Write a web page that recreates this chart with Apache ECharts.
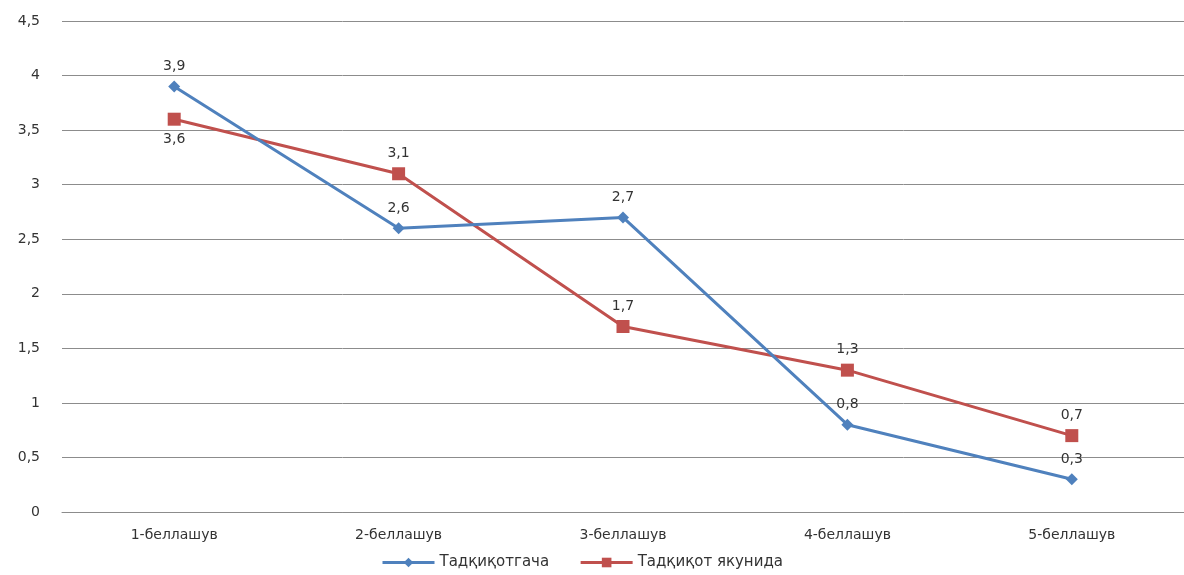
<!DOCTYPE html>
<html>
<head>
<meta charset="utf-8">
<script src="https://cdn.jsdelivr.net/npm/echarts@6/dist/echarts.min.js"></script>
<style>
  html, body { margin: 0; padding: 0; background: #fff; }
  #main { width: 1184px; height: 575px; }
</style>
</head>
<body>
<div id="main"></div>
<script>
var categories = ['1-беллашув', '2-беллашув', '3-беллашув', '4-беллашув', '5-беллашув'];
var seriesNames = ['Тадқиқотгача', 'Тадқиқот якунида'];
var before = [3.9, 2.6, 2.7, 0.8, 0.3];
var after = [3.6, 3.1, 1.7, 1.3, 0.7];
// red labels: only the first one sits below its point
var afterLabelPos = ['bottom', 'top', 'top', 'top', 'top'];

var myChart = echarts.init(document.getElementById('main'));
var font = 'DejaVu Sans';

function comma(v) {
  return String(v).replace('.', ',');
}

var option = {
  backgroundColor: '#fff',
  textStyle: { fontFamily: font },
  grid: { left: 62, right: -9, top: 21, bottom: 63 },
  legend: {
    bottom: 0,
    left: 376,
    itemWidth: 52,
    itemHeight: 12,
    itemGap: 30,
    lineStyle: { width: 3 },
    textStyle: { fontFamily: font, fontSize: 15, color: '#333' },
    data: seriesNames
  },
  xAxis: {
    type: 'category',
    data: categories,
    boundaryGap: true,
    axisLine: { lineStyle: { color: '#8c8c8c' } },
    axisTick: { show: false },
    axisLabel: { fontFamily: font, fontSize: 14, color: '#333', margin: 16 }
  },
  yAxis: {
    type: 'value',
    min: 0,
    max: 4.5,
    interval: 0.5,
    axisLine: { show: false },
    axisTick: { show: false },
    axisLabel: {
      fontFamily: font, fontSize: 14, color: '#333', margin: 22,
      formatter: function (v) { return comma(v); }
    },
    splitLine: { lineStyle: { color: '#8c8c8c', width: 1 } }
  },
  series: [{
    name: seriesNames[0],
    type: 'line',
    data: before,
    symbol: 'diamond',
    symbolSize: 12,
    color: '#4F81BD',
    lineStyle: { width: 3, color: '#4F81BD' },
    itemStyle: { color: '#4F81BD' },
    label: {
      show: true,
      position: 'top',
      distance: 7,
      fontFamily: font,
      fontSize: 14,
      color: '#333',
      formatter: function (p) { return comma(p.value); }
    },
    z: 3
  }, {
    name: seriesNames[1],
    type: 'line',
    data: after.map(function (v, i) {
      return { value: v, label: { position: afterLabelPos[i] } };
    }),
    symbol: 'rect',
    symbolSize: 13,
    color: '#C0504D',
    lineStyle: { width: 3, color: '#C0504D' },
    itemStyle: { color: '#C0504D' },
    label: {
      show: true,
      position: 'top',
      distance: 7,
      fontFamily: font,
      fontSize: 14,
      color: '#333',
      formatter: function (p) { return comma(p.value); }
    },
    z: 2
  }]
};

myChart.setOption(option);
</script>
</body>
</html>
